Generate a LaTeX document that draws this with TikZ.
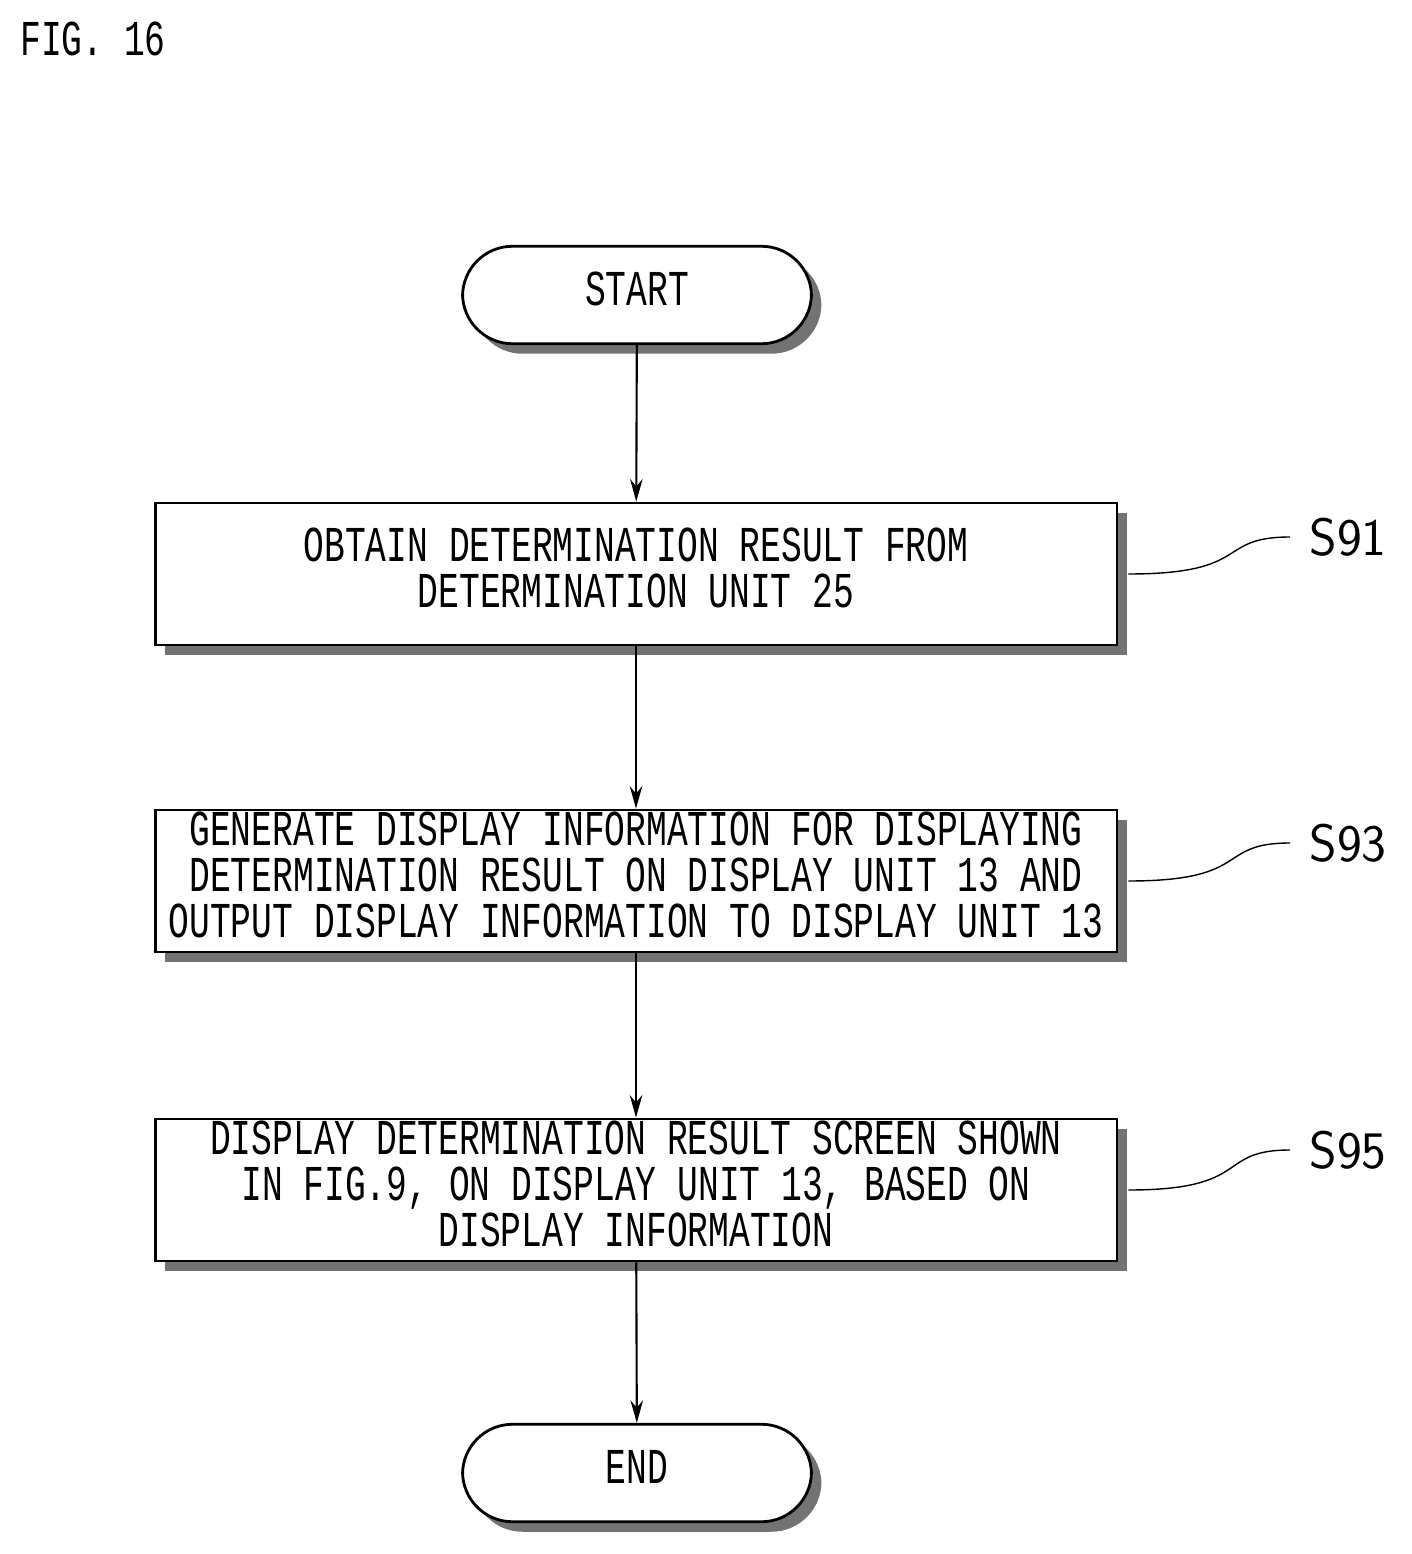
\documentclass[tikz,border=0pt]{standalone}
\usepackage{fontspec}
\usepackage{graphicx}
\setmonofont{Liberation Mono}
\usetikzlibrary{shadows,arrows.meta}
\newcommand\tx[1]{\scalebox{1}[1.45]{\fontsize{19.7}{16}\selectfont\ttfamily\begin{tabular}{@{}c@{}}#1\end{tabular}}}
\begin{document}
\begin{tikzpicture}[x=0.02cm,y=-0.02cm,
  sh/.style={drop shadow={shadow xshift=0.2cm,shadow yshift=-0.2cm,fill=black!55,opacity=1}},
  box/.style={draw,line width=1.6pt,fill=white,sh,minimum width=19.24cm,minimum height=2.84cm,inner sep=0pt},
  term/.style={draw,line width=1.6pt,fill=white,sh,rounded corners=1cm,minimum width=6.98cm,minimum height=1.95cm},
  arr/.style={line width=1.2pt,-{Stealth[length=0.45cm,width=0.25cm]}},
  lead/.style={line width=0.8pt},
  lab/.style={font=\fontsize{30}{30}\selectfont\sffamily}]
\useasboundingbox (0,0) rectangle (1411,1554);
\node[anchor=north west,inner sep=0pt] (fig) at (20,22) {\tx{FIG. 16}};
\node[term] (start) at (637,295) {\tx{START}};
\node[box] (s91) at (636,574) {\tx{OBTAIN DETERMINATION RESULT FROM\\DETERMINATION UNIT 25}};
\node[box] (s93) at (636,881) {\tx{GENERATE DISPLAY INFORMATION FOR DISPLAYING\\DETERMINATION RESULT ON DISPLAY UNIT 13 AND\\OUTPUT DISPLAY INFORMATION TO DISPLAY UNIT 13}};
\node[box] (s95) at (636,1190) {\tx{DISPLAY DETERMINATION RESULT SCREEN SHOWN\\IN FIG.9, ON DISPLAY UNIT 13, BASED ON\\DISPLAY INFORMATION}};
\node[term] (end) at (637,1473) {\tx{END}};
\draw[arr] (start) -- (s91);
\draw[arr] (s91) -- (s93);
\draw[arr] (s93) -- (s95);
\draw[arr] (s95) -- (end);
\foreach \n/\t/\y in {s91/S91/537,s93/S93/843,s95/S95/1150}{
  \node[lab] (l\n) at (1348,\y) {\t};
  \coordinate (c\n) at (1290,\y);
  \draw[lead] ([xshift=0.2cm]\n.east) .. controls +(2.5cm,0) and +(-1.5cm,0) .. (c\n);
}
\end{tikzpicture}
\end{document}
